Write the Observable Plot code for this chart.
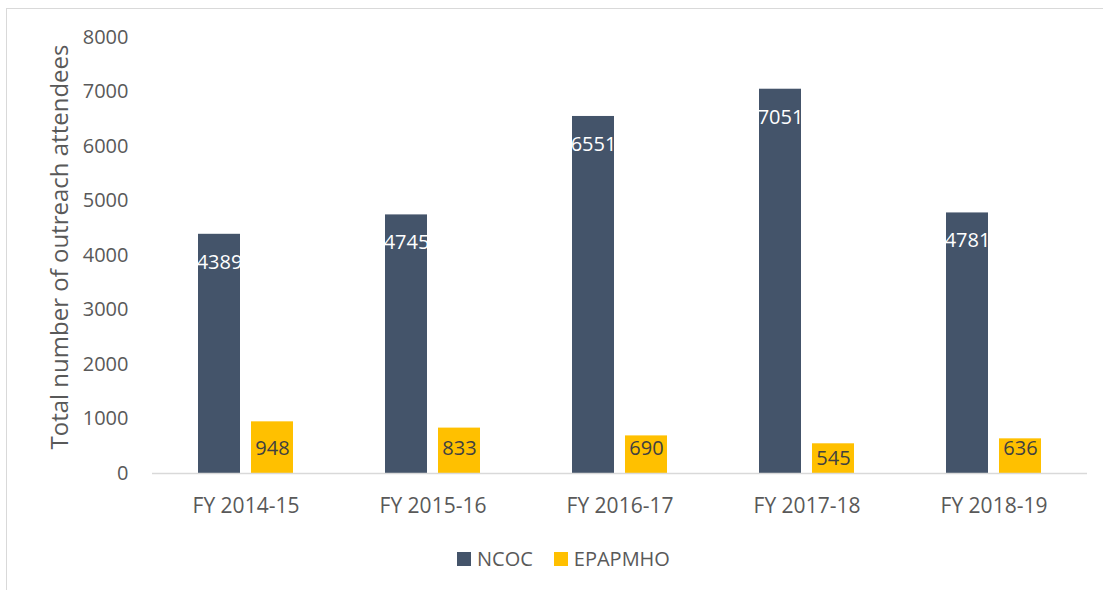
<!DOCTYPE html>
<html>
<head>
<meta charset="utf-8">
<script src="https://cdn.jsdelivr.net/npm/d3@7"></script>
<script src="https://cdn.jsdelivr.net/npm/@observablehq/plot@0.6"></script>
<style>
  html, body { margin: 0; padding: 0; background: #fff; }
  #wrap { position: relative; width: 1103px; height: 590px; overflow: hidden; font-family: "Open Sans", sans-serif; }
  #frame { position: absolute; left: 6px; top: 8px; width: 1200px; height: 700px; border: 1px solid #d9d9d9; box-sizing: border-box; }
  #chart { position: absolute; left: 0; top: 0; }
  #ytitle { position: absolute; left: 59px; top: 247px; transform: translate(-50%, -50%) rotate(-90deg); font-size: 24px; color: #595959; white-space: nowrap; line-height: 1; }
  #legend { position: absolute; top: 545px; left: 457px; display: flex; align-items: center; font-size: 20px; color: #595959; white-space: nowrap; }
  .sw { display: inline-block; width: 14px; height: 14px; margin-right: 6px; }
  .item { display: flex; align-items: center; margin-right: 21px; }
</style>
</head>
<body>
<div id="wrap">
  <div id="frame"></div>
  <div id="chart"></div>
  <div id="ytitle"></div>
  <div id="legend"></div>
</div>
<script>
const years = ["FY 2014-15", "FY 2015-16", "FY 2016-17", "FY 2017-18", "FY 2018-19"];
const series = ["NCOC", "EPAPMHO"];
const colors = ["#44546A", "#FFC000"];
const ncoc = [4389, 4745, 6551, 7051, 4781];
const epapmho = [948, 833, 690, 545, 636];
const yTicks = [0, 1000, 2000, 3000, 4000, 5000, 6000, 7000, 8000];
const yTitle = "Total number of outreach attendees";

const data = [];
years.forEach((y, i) => {
  data.push({year: y, series: "NCOC", value: ncoc[i]});
  data.push({year: y, series: "EPAPMHO", value: epapmho[i]});
});
const dN = data.filter(d => d.series === "NCOC");
const dE = data.filter(d => d.series === "EPAPMHO");

const chart = Plot.plot({
  width: 1103,
  height: 530,
  marginLeft: 152,
  marginRight: 16,
  marginTop: 37,
  marginBottom: 57,
  style: {fontFamily: "'Open Sans', sans-serif", fontSize: "20px", color: "#595959", background: "transparent", overflow: "visible"},
  fx: {domain: years, padding: 0, label: null},
  x: {domain: series, paddingInner: 0.21, paddingOuter: 0.86, axis: null},
  y: {domain: [0, 8000], label: null},
  color: {domain: series, range: colors},
  marks: [
    Plot.axisY({ticks: yTicks, tickFormat: "d", tickSize: 0, tickPadding: 24, label: null, fontSize: 20}),
    Plot.axisFx({anchor: "bottom", tickSize: 0, tickPadding: 25, label: null, fontSize: 21}),
    Plot.barY(data, {fx: "year", x: "series", y: "value", fill: "series"}),
    Plot.ruleY([0], {stroke: "#d9d9d9", strokeWidth: 1.5}),
    Plot.text(dN, {fx: "year", x: "series", y: "value", text: d => String(d.value), dy: 28, fill: "white", fontSize: 20}),
    Plot.text(dE, {fx: "year", x: "series", y: d => d.value > 600 ? 460 : d.value / 2, text: d => String(d.value), fill: "#404040", fontSize: 20})
  ]
});
document.getElementById("chart").appendChild(chart);
document.getElementById("ytitle").textContent = yTitle;

const legend = document.getElementById("legend");
series.forEach((s, i) => {
  const it = document.createElement("div");
  it.className = "item";
  const sw = document.createElement("span");
  sw.className = "sw";
  sw.style.background = colors[i];
  const t = document.createElement("span");
  t.textContent = s;
  it.appendChild(sw); it.appendChild(t);
  legend.appendChild(it);
});
</script>
</body>
</html>
